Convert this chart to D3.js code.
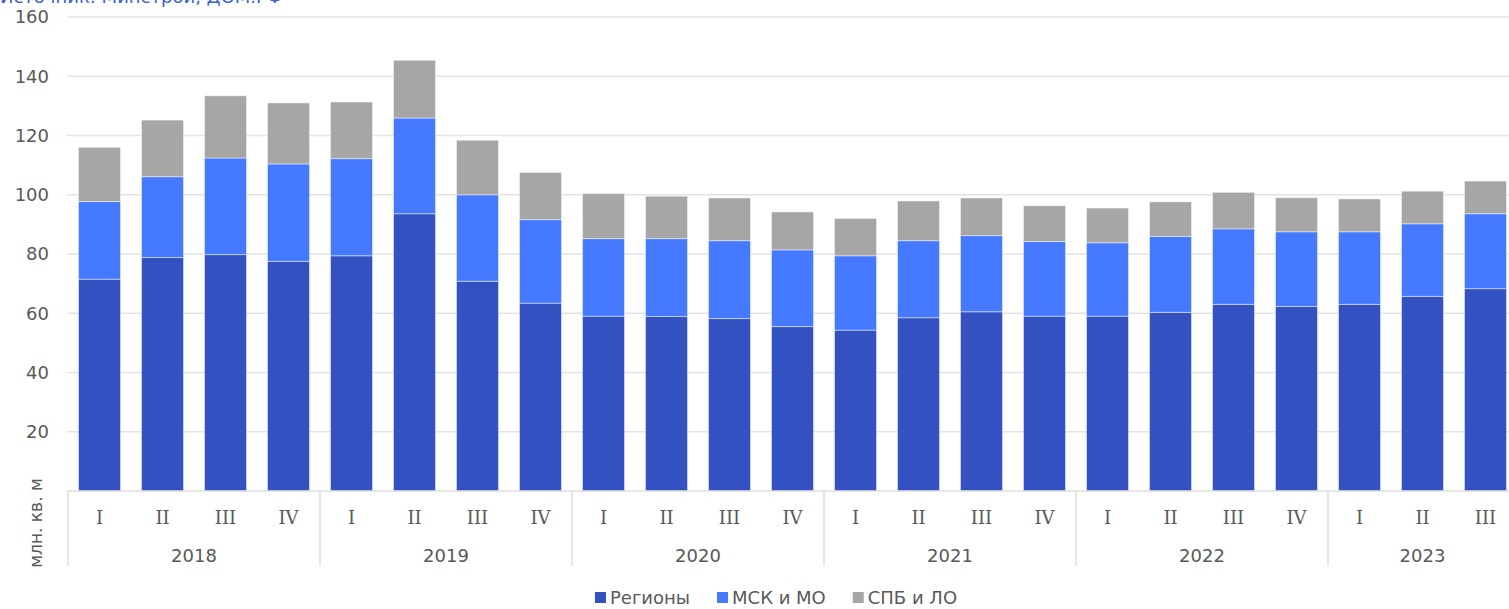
<!DOCTYPE html>
<html>
<head>
<meta charset="utf-8">
<script src="https://cdn.jsdelivr.net/npm/d3@7"></script>
<style>
  body { margin: 0; background: #fff; overflow: hidden; }
  text { font-family: "DejaVu Sans", Verdana, sans-serif; fill: #595959; }
</style>
</head>
<body>
<svg id="chart" width="1509" height="609"></svg>
<script>
const years = ['2018', '2019', '2020', '2021', '2022', '2023']
const periods = [
    '2018 I', '2018 II', '2018 III', '2018 IV',
    '2019 I', '2019 II', '2019 III', '2019 IV',
    '2020 I', '2020 II', '2020 III', '2020 IV',
    '2021 I', '2021 II', '2021 III', '2021 IV',
    '2022 I', '2022 II', '2022 III', '2022 IV',
    '2023 I', '2023 II', '2023 III'
]
// млн. кв. м
const regions = [71.5, 78.8, 79.8, 77.5, 79.4, 93.6, 70.8, 63.4, 59.0, 58.9, 58.2, 55.5,
                 54.3, 58.5, 60.5, 59.0, 59.0, 60.3, 63.0, 62.3, 63.0, 65.7, 68.3]
const moscow = [26.2, 27.3, 32.6, 32.9, 32.8, 32.3, 29.2, 28.2, 26.2, 26.3, 26.3, 25.9,
                25.1, 26.0, 25.7, 25.2, 24.8, 25.6, 25.5, 25.2, 24.5, 24.5, 25.3]
const spb = [18.3, 19.1, 21.0, 20.6, 19.1, 19.5, 18.4, 15.9, 15.2, 14.3, 14.4, 12.8,
             12.6, 13.4, 12.7, 12.1, 11.7, 11.7, 12.3, 11.5, 11.1, 11.0, 11.0]
const seriesNames = ['Регионы', 'МСК и МО', 'СПБ и ЛО']
const yTicks = [20, 40, 60, 80, 100, 120, 140, 160]

const colors = ['#3351c1', '#4579ff', '#a6a6a6']

const svg = d3.select('#chart')

const x = d3.scaleBand()
    .domain(periods)
    .range([68, 68 + periods.length * 63])
    .paddingInner(1 / 3)
    .paddingOuter(1 / 6)

const y = d3.scaleLinear().domain([0, 160]).range([491, 17])

// source caption, cut off at the top edge like in the original
svg.append('text')
    .attr('x', 0)
    .attr('y', 3)
    .style('fill', '#3a5fd9')
    .style('font-size', '18px')
    .text('Источник: Минстрой, ДОМ.РФ')

// grid lines
svg.append('g')
    .selectAll('line')
    .data(yTicks)
    .enter()
    .append('line')
    .attr('x1', 67)
    .attr('x2', 1509)
    .attr('y1', d => y(d))
    .attr('y2', d => y(d))
    .attr('stroke', '#e3e3e3')
    .attr('stroke-width', 1.5)

// y tick labels
svg.append('g')
    .selectAll('text')
    .data(yTicks)
    .enter()
    .append('text')
    .attr('x', 49)
    .attr('y', d => y(d))
    .attr('dy', '0.36em')
    .attr('text-anchor', 'end')
    .style('font-size', '18px')
    .text(d => d)

// stacked bars
const table = periods.map((p, i) => ({ period: p, s0: regions[i], s1: moscow[i], s2: spb[i] }))
const stack = d3.stack().keys(['s0', 's1', 's2'])(table)

svg.append('g')
    .selectAll('g')
    .data(stack)
    .enter()
    .append('g')
    .attr('fill', (d, i) => colors[i])
    .selectAll('rect')
    .data(d => d)
    .enter()
    .append('rect')
    .attr('x', d => x(d.data.period))
    .attr('width', x.bandwidth())
    .attr('y', d => y(d[1]))
    .attr('height', d => y(d[0]) - y(d[1]))
    .attr('stroke', 'rgba(255,255,255,0.45)')
    .attr('stroke-width', 1)

// category axis
const axisG = svg.append('g')
axisG.append('line')
    .attr('x1', 67)
    .attr('x2', 1509)
    .attr('y1', y(0))
    .attr('y2', y(0))
    .attr('stroke', '#dedede')
    .attr('stroke-width', 1.5)

// year groups: first and last period of each year
const yearGroups = years.map(yr => {
    const ps = periods.filter(p => p.startsWith(yr))
    return { year: yr, first: ps[0], last: ps[ps.length - 1] }
})
const step = x.step()
const groupStart = g => x(g.first) - x.bandwidth() * x.paddingInner() / 2 / (1 - x.paddingInner())
const groupEnd = g => groupStart({ first: g.last }) + step

axisG.selectAll('line.sep')
    .data(yearGroups)
    .enter()
    .append('line')
    .attr('class', 'sep')
    .attr('x1', d => groupStart(d))
    .attr('x2', d => groupStart(d))
    .attr('y1', y(0))
    .attr('y2', 566)
    .attr('stroke', '#dedede')
    .attr('stroke-width', 1.5)

axisG.selectAll('text.q')
    .data(periods)
    .enter()
    .append('text')
    .attr('class', 'q')
    .attr('x', d => x(d) + x.bandwidth() / 2)
    .attr('y', 524)
    .attr('text-anchor', 'middle')
    .style('font-size', '18px')
    .style('font-family', '"DejaVu Serif", serif')
    .text(d => d.split(' ')[1])

axisG.selectAll('text.yr')
    .data(yearGroups)
    .enter()
    .append('text')
    .attr('class', 'yr')
    .attr('x', d => (groupStart(d) + groupEnd(d)) / 2)
    .attr('y', 562)
    .attr('text-anchor', 'middle')
    .style('font-size', '18px')
    .text(d => d.year)

// y axis title
svg.append('text')
    .attr('transform', 'translate(42,523) rotate(-90)')
    .attr('text-anchor', 'middle')
    .style('font-size', '17px')
    .text('млн. кв. м')

// legend
const legend = svg.append('g')
let lx = 0
const GAP = 27
seriesNames.forEach((name, i) => {
    const g = legend.append('g')
    g.append('rect')
        .attr('x', 0).attr('y', -12)
        .attr('width', 11).attr('height', 11)
        .attr('fill', colors[i])
    const t = g.append('text')
        .attr('x', 15).attr('y', 0)
        .style('font-size', '18px')
        .text(name)
    const w = 15 + t.node().getComputedTextLength()
    g.attr('transform', `translate(${lx},0)`)
    lx += w + GAP
})
const legendWidth = lx - GAP
legend.attr('transform', `translate(${776 - legendWidth / 2},${604})`)
</script>
</body>
</html>
